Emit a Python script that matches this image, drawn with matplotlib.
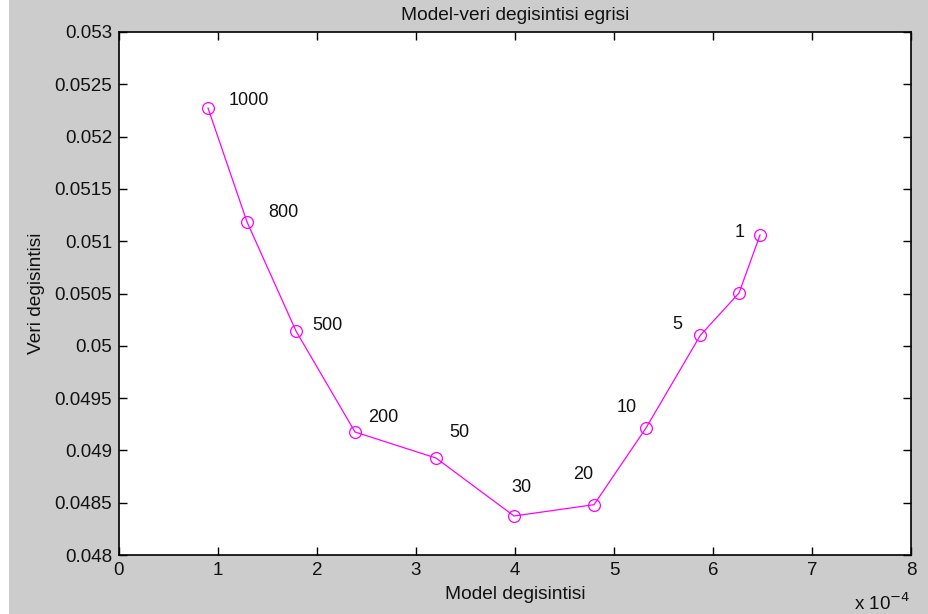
import matplotlib
matplotlib.use("Agg")
import matplotlib.pyplot as plt
from matplotlib.patches import Rectangle

# data (model change in units of 1e-4)
model_change = [0.899, 1.293, 1.788, 2.384, 3.202, 3.990, 4.798, 5.323, 5.872, 6.263, 6.475]
data_change = [0.052273, 0.051184, 0.050141, 0.049176, 0.048927, 0.048373,
               0.048481, 0.049214, 0.050100, 0.050505, 0.051059]
point_labels = ["1000", "800", "500", "200", "50", "30", "20", "10", "5", "", "1"]
x_ticks = [0, 1, 2, 3, 4, 5, 6, 7, 8]
y_ticks = [0.048, 0.0485, 0.049, 0.0495, 0.05, 0.0505, 0.051, 0.0515, 0.052, 0.0525, 0.053]
y_tick_labels = ["0.048", "0.0485", "0.049", "0.0495", "0.05", "0.0505",
                 "0.051", "0.0515", "0.052", "0.0525", "0.053"]

# label offsets in pixels (left edge of text, vertical center) relative to point
label_offsets = [(21, 8), (21, 9), (16, 6), (13, 14), (13, 26), (-3, 28),
                 (-21, 30), (-29, 21), (-28, 11), (0, 0), (-25, 3)]

plt.rcParams['font.family'] = ['Liberation Sans', 'DejaVu Sans']

fig = plt.figure(figsize=(9.29, 6.14), dpi=100, facecolor='#cccccc')
fig.patches.append(Rectangle((0, 0), 9 / 929, 1, transform=fig.transFigure,
                             facecolor='white', edgecolor='none', zorder=-10))
ax = fig.add_axes([119 / 929, 1 - 555 / 614, (911 - 119) / 929, (555 - 32) / 614])
ax.set_facecolor('white')

ax.plot(model_change, data_change, color='#ff00ff', linewidth=0.9, marker='o',
        markersize=8.5, markerfacecolor='none', markeredgecolor='#ff00ff',
        markeredgewidth=0.9)

for xv, yv, lab, off in zip(model_change, data_change, point_labels, label_offsets):
    if lab:
        ax.annotate(lab, (xv, yv), xytext=off, textcoords='offset pixels',
                    ha='left', va='center', fontsize=13, color='#111111')

ax.set_xlim(0, 8)
ax.set_ylim(0.048, 0.053)
ax.set_xticks(x_ticks)
ax.set_xticklabels([str(t) for t in x_ticks])
ax.set_yticks(y_ticks)
ax.set_yticklabels(y_tick_labels)
ax.tick_params(direction='in', length=6, width=1, top=True, right=True,
               labelsize=13.5, colors='black', labelcolor='#111111', pad=5)
for sp in ax.spines.values():
    sp.set_linewidth(1.2)
    sp.set_color('black')

ax.set_title("Model-veri degisintisi egrisi", fontsize=13.8, color='#111111', pad=9)
ax.set_xlabel("Model degisintisi", fontsize=13.8, color='#111111', labelpad=5)
ax.set_ylabel("Veri degisintisi", fontsize=13.8, color='#111111', labelpad=7)

fig.text(910 / 929, 1 - 603 / 614, r"x 10$^{-4}$", ha='right', va='center',
         fontsize=13.5, color='#111111')

fig.savefig("out.png", dpi=100, facecolor=fig.get_facecolor())
